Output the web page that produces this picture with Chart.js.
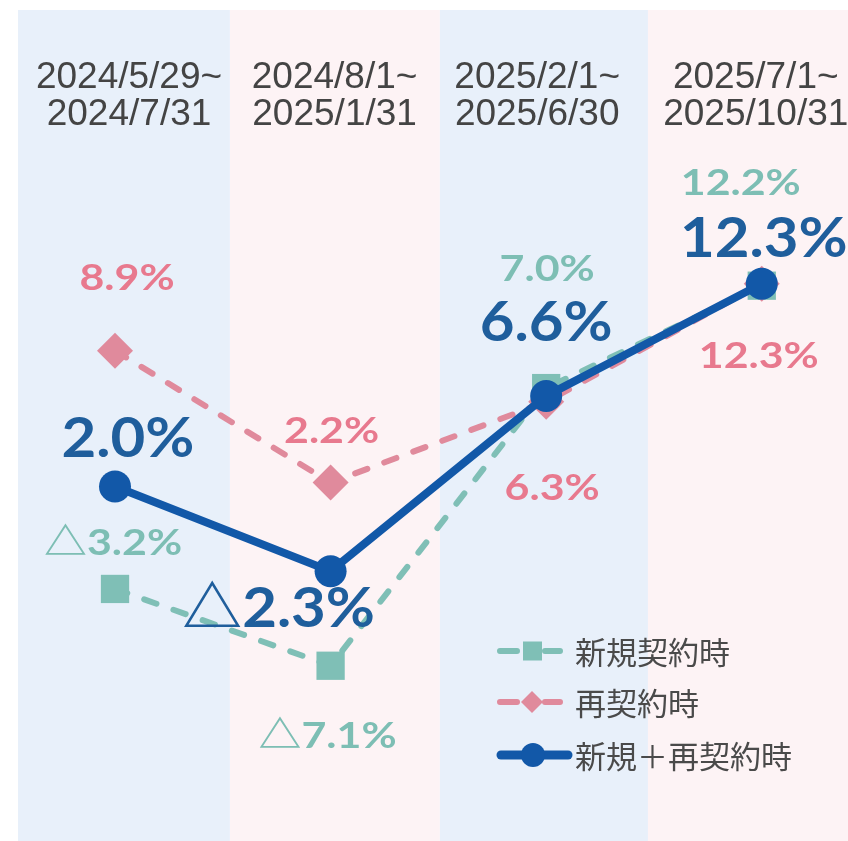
<!DOCTYPE html>
<html lang="ja">
<head>
    <meta charset="UTF-8">
    <title>契約時の賃料変動率</title>
    <script src="https://cdn.jsdelivr.net/npm/chart.js"></script>
    <style>
        body {
            margin: 0;
            background: #ffffff;
        }
        .chart-container {
            position: relative;
            width: 848px;
            height: 841px;
        }
    </style>
</head>
<body>
    <div class="chart-container">
        <canvas id="rentChart" width="848" height="841"></canvas>
    </div>

    <script>
        // periods (two header lines each)
        const periodStart = ['2024/5/29~', '2024/8/1~', '2025/2/1~', '2025/7/1~'];
        const periodEnd = ['2024/7/31', '2025/1/31', '2025/6/30', '2025/10/31'];

        // change rates (%)
        const newContract = [-3.2, -7.1, 7.0, 12.2];
        const renewal = [8.9, 2.2, 6.3, 12.3];
        const combined = [2.0, -2.3, 6.6, 12.3];

        const seriesNames = ['新規契約時', '再契約時', '新規＋再契約時'];

        const teal = '#7fbfb6';
        const pink = '#e08a9c';
        const blue = '#1258a8';

        function toPoints(values) {
            return values.map((v, i) => ({ x: i, y: v }));
        }

        function fmt(v) {
            return (v < 0 ? '△' + Math.abs(v).toFixed(1) : v.toFixed(1)) + '%';
        }

        // background band edges on the x scale, header nudges in px
        const bandEdges = [-0.45, 0.533, 1.507, 2.472, 3.4];
        const headerShift = [14, 4, -9, -6];

        // label placement per dataset, offsets from the point in px
        const labelStyle = [
            { color: '#7dbeb4', size: 37, stretch: 1.16, offsets: [[-2, -47], [-3, 69], [1, -120], [-21, -104]] },
            { color: '#e8798e', size: 37, stretch: 1.16, offsets: [[12, -74], [1, -53], [6, 85], [-3, 71]] },
            { color: '#1f5e9c', size: 56, stretch: 1.07, offsets: [[13, -50], [-52, 36], [0, -75], [2, -47]] }
        ];

        const bandsPlugin = {
            id: 'bands',
            beforeDatasetsDraw(chart) {
                const { ctx, chartArea } = chart;
                const x = chart.scales.x;
                ctx.save();
                for (let i = 0; i < periodStart.length; i++) {
                    const left = Math.max(chartArea.left, x.getPixelForValue(bandEdges[i]));
                    const right = Math.min(chartArea.right, x.getPixelForValue(bandEdges[i + 1]));
                    ctx.fillStyle = i % 2 === 0 ? '#e8f0fa' : '#fdf3f5';
                    ctx.fillRect(left, chartArea.top, right - left, chartArea.bottom - chartArea.top);
                }
                ctx.fillStyle = '#444444';
                ctx.font = '37px "Liberation Sans", Arial, sans-serif';
                ctx.textAlign = 'center';
                ctx.textBaseline = 'alphabetic';
                for (let i = 0; i < periodStart.length; i++) {
                    const cx = x.getPixelForValue(i) + headerShift[i];
                    ctx.fillText(periodStart[i], cx, 88);
                    ctx.fillText(periodEnd[i], cx, 125);
                }
                ctx.restore();
            }
        };

        const labelsPlugin = {
            id: 'valueLabels',
            afterDatasetsDraw(chart) {
                const { ctx } = chart;
                ctx.save();
                ctx.textAlign = 'center';
                ctx.textBaseline = 'alphabetic';
                chart.data.datasets.forEach((ds, di) => {
                    const meta = chart.getDatasetMeta(di);
                    const st = labelStyle[di];
                    ctx.fillStyle = st.color;
                    ctx.font = 'bold ' + st.size + 'px Lato, "Noto Sans CJK JP", sans-serif';
                    meta.data.forEach((pt, i) => {
                        const off = st.offsets[i];
                        ctx.save();
                        ctx.translate(pt.x + off[0], pt.y + off[1] + st.size * 0.36);
                        ctx.scale(st.stretch, 1);
                        ctx.fillText(fmt(ds.data[i].y), 0, 0);
                        ctx.restore();
                    });
                });

                // legend
                const rows = [
                    { y: 651, color: teal, dashed: true, marker: 'rect' },
                    { y: 702, color: pink, dashed: true, marker: 'diamond' },
                    { y: 755, color: blue, dashed: false, marker: 'circle' }
                ];
                ctx.font = '31px "Noto Sans CJK JP", sans-serif';
                ctx.textAlign = 'left';
                ctx.textBaseline = 'middle';
                rows.forEach((r, i) => {
                    ctx.strokeStyle = r.color;
                    ctx.fillStyle = r.color;
                    ctx.lineCap = 'round';
                    ctx.lineWidth = r.dashed ? 6 : 9;
                    ctx.beginPath();
                    if (r.dashed) {
                        ctx.moveTo(500, r.y); ctx.lineTo(517, r.y);
                        ctx.moveTo(545, r.y); ctx.lineTo(560, r.y);
                    } else {
                        ctx.moveTo(501, r.y); ctx.lineTo(568, r.y);
                    }
                    ctx.stroke();
                    ctx.beginPath();
                    if (r.marker === 'rect') {
                        ctx.rect(523, r.y - 9.5, 19, 19);
                    } else if (r.marker === 'diamond') {
                        ctx.moveTo(532, r.y - 11); ctx.lineTo(543, r.y);
                        ctx.lineTo(532, r.y + 11); ctx.lineTo(521, r.y);
                        ctx.closePath();
                    } else {
                        ctx.arc(533, r.y, 12, 0, Math.PI * 2);
                    }
                    ctx.fill();
                    ctx.fillStyle = '#4a4a4a';
                    ctx.fillText(seriesNames[i], 575, r.y + 1);
                });
                ctx.restore();
            }
        };

        const ctx = document.getElementById('rentChart').getContext('2d');
        const chart = new Chart(ctx, {
            type: 'line',
            data: {
                datasets: [
                    {
                        label: seriesNames[0],
                        data: toPoints(newContract),
                        borderColor: teal,
                        backgroundColor: teal,
                        borderWidth: 6,
                        borderDash: [13, 18],
                        borderCapStyle: 'round',
                        pointStyle: 'rect',
                        pointRadius: 20,
                        pointBorderWidth: 0,
                        order: 2
                    },
                    {
                        label: seriesNames[1],
                        data: toPoints(renewal),
                        borderColor: pink,
                        backgroundColor: pink,
                        borderWidth: 6,
                        borderDash: [13, 18],
                        borderCapStyle: 'round',
                        pointStyle: 'rectRot',
                        pointRadius: 18,
                        pointBorderWidth: 0,
                        order: 1
                    },
                    {
                        label: seriesNames[2],
                        data: toPoints(combined),
                        borderColor: blue,
                        backgroundColor: blue,
                        borderWidth: 8,
                        pointStyle: 'circle',
                        pointRadius: 16,
                        pointBorderWidth: 0,
                        order: 0
                    }
                ]
            },
            options: {
                responsive: false,
                animation: false,
                layout: {
                    autoPadding: false,
                    padding: { left: 18, top: 10, right: 0, bottom: 0 }
                },
                scales: {
                    x: { type: 'linear', display: false, min: -0.45, max: 3.4 },
                    y: { display: false, min: -16, max: 26.2 }
                },
                plugins: {
                    legend: { display: false },
                    tooltip: { enabled: false }
                }
            },
            plugins: [bandsPlugin, labelsPlugin]
        });
    </script>
</body>
</html>
